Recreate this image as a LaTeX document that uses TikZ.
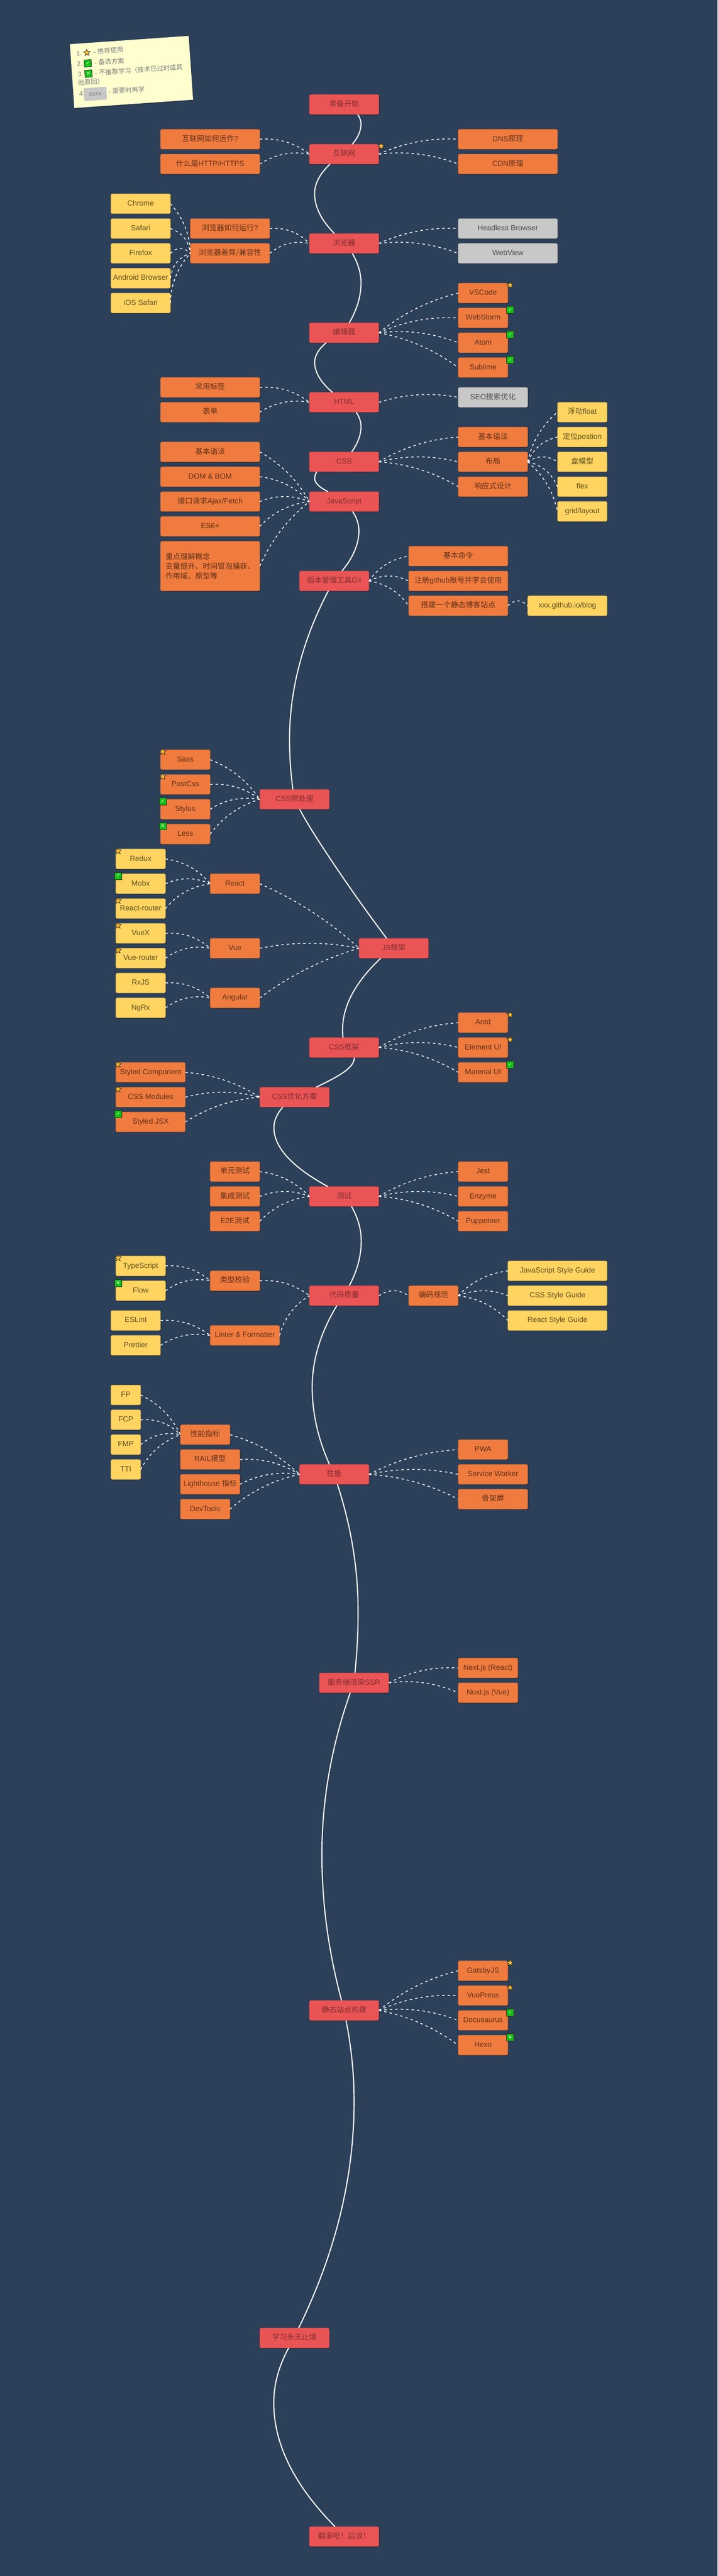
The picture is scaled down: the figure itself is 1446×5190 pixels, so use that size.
\documentclass[tikz,border=0pt]{standalone}
\usepackage{fontspec}
\setmainfont{Liberation Sans}
\newfontfamily\cjk{Noto Sans CJK SC}
\newfontfamily\dejavu{DejaVu Sans}
\usetikzlibrary{calc,shadows,shapes.geometric}
\newcommand\zh[1]{{\cjk #1}}
\definecolor{bgcol}{HTML}{2D4059}
\definecolor{redcol}{HTML}{EA5455}
\definecolor{orangecol}{HTML}{F07B3F}
\definecolor{yellowcol}{HTML}{FFD460}
\definecolor{greycol}{HTML}{C8C8C8}
\definecolor{notecol}{HTML}{FEFECF}
\definecolor{greencol}{HTML}{14C014}
\definecolor{goldcol}{HTML}{FBBD2E}
\tikzset{
  boxbase/.style={rectangle,rounded corners=3pt,inner sep=0pt,outer sep=0pt,line width=.7pt,
    font=\fontsize{15}{20}\selectfont,
    general shadow={fill=black,opacity=.28,shadow xshift=1pt,shadow yshift=-1.5pt}},
  redbox/.style={boxbase,fill=redcol,draw=redcol!82!black,text=black!45!redcol},
  orangebox/.style={boxbase,fill=orangecol,draw=orangecol!82!black,text=black!60!orangecol},
  yellowbox/.style={boxbase,fill=yellowcol,draw=yellowcol!82!black,text=black!62!yellowcol},
  greybox/.style={boxbase,fill=greycol,draw=greycol!82!black,text=black!62!greycol},
  spineline/.style={draw=white,line width=2.2pt},
  dashconn/.style={draw=white,line width=1.6pt,dash pattern=on 5pt off 6pt},
  starbadge/.style={star,star points=5,star point ratio=2.2,minimum size=14pt,inner sep=0pt,
    fill=goldcol,draw=black!85,line width=.8pt},
  squarebadge/.style={rectangle,minimum size=14.5pt,inner sep=0pt,fill=greencol,draw=black!85,
    line width=.8pt,text=white,font=\dejavu\fontsize{10}{10}\selectfont},
  notebox/.style={rectangle,fill=notecol,minimum width=240pt,minimum height=129pt,inner sep=0pt,
    general shadow={fill=black,opacity=.28,shadow xshift=1pt,shadow yshift=-1.5pt}},
  notetext/.style={inner sep=0pt,anchor=west,text=black!50,transform shape,
    font=\fontsize{13}{16}\selectfont},
}
\newcommand\nd[6]{\node[#2,minimum width=#5pt,minimum height=40pt,text height=11pt,text depth=3pt] (#1) at (#3+#5/2,#4+20) {#6};}
\newcommand\cn[2]{%
  \coordinate (Q) at ($(#1.east)!.5!(#2.west)!20pt!90:(#2.west)$);
  \draw[dashconn] (#1.east) .. controls ($(#1.east)!.667!(Q)$) and ($(#2.west)!.667!(Q)$) .. (#2.west);}
\newcommand\spine[6]{%
  \coordinate (S) at (#2,0 |- #1.south);
  \coordinate (E) at (#4,0 |- #3.north);
  \coordinate (P) at (#5,#6);
  \coordinate (M1) at ($(S)!.5!(S|-P)$);
  \coordinate (M2) at ($(E)!.5!(E|-P)$);
  \coordinate (C1) at (P|-M1);
  \coordinate (C2) at (P|-M2);
  \draw[spineline] (S) .. controls ($(S)!.667!(C1)$) and ($(P)!.667!(C1)$) .. (P)
     .. controls ($(P)!.667!(C2)$) and ($(E)!.667!(C2)$) .. (E);}
\newcommand\stR[1]{\node[starbadge] (#1-b) at ($(#1.north east)+(4.5,4)$) {};}
\newcommand\stL[1]{\node[starbadge] (#1-b) at ($(#1.north west)+(4.5,4)$) {};}
\newcommand\okR[1]{\node[squarebadge] (#1-b) at ($(#1.north east)+(4.5,4)$) {✓};}
\newcommand\okL[1]{\node[squarebadge] (#1-b) at ($(#1.north west)+(4.5,4)$) {✓};}
\newcommand\noR[1]{\node[squarebadge] (#1-b) at ($(#1.north east)+(4.5,4)$) {✕};}
\newcommand\noL[1]{\node[squarebadge] (#1-b) at ($(#1.north west)+(4.5,4)$) {✕};}
\begin{document}
\begin{tikzpicture}[x=1pt,y=-1pt]
\useasboundingbox (0,0) rectangle (1446,5190);
\fill[bgcol] (0,0) rectangle (1446,5190);

% main nodes
\nd{r1}{redbox}{623.5}{190.5}{140}{\zh{准备开始}}
\nd{r2}{redbox}{623.5}{290.5}{140}{\zh{互联网}}
\nd{r3}{redbox}{623.5}{470.5}{140}{\zh{浏览器}}
\nd{r4}{redbox}{623.5}{650.5}{140}{\zh{编辑器}}
\nd{r5}{redbox}{623.5}{790.5}{140}{HTML}
\nd{r6}{redbox}{623.5}{910.5}{140}{CSS}
\nd{r7}{redbox}{623.5}{990.5}{140}{JavaScript}
\nd{r8}{redbox}{603.5}{1150.5}{140}{\zh{版本管理工具}Git}
\nd{r9}{redbox}{523.5}{1590.5}{140}{CSS\zh{预处理}}
\nd{r10}{redbox}{723.5}{1890.5}{140}{JS\zh{框架}}
\nd{r11}{redbox}{623.5}{2090.5}{140}{CSS\zh{框架}}
\nd{r12}{redbox}{523.5}{2190.5}{140}{CSS\zh{优化方案}}
\nd{r13}{redbox}{623.5}{2390.5}{140}{\zh{测试}}
\nd{r14}{redbox}{623.5}{2590.5}{140}{\zh{代码质量}}
\nd{r15}{redbox}{603.5}{2950.5}{140}{\zh{性能}}
\nd{r16}{redbox}{643.5}{3370.5}{140}{\zh{服务端渲染}SSR}
\nd{r17}{redbox}{623.5}{4030.5}{140}{\zh{静态站点构建}}
\nd{r18}{redbox}{523.5}{4690.5}{140}{\zh{学习永无止境}}
\nd{r19}{redbox}{623.5}{5090.5}{140}{\zh{翻滚吧！后浪！}}

% internet
\nd{a1}{orangebox}{323.5}{260.5}{200}{\zh{互联网如何运作}?}
\nd{a2}{orangebox}{323.5}{310.5}{200}{\zh{什么是}HTTP/HTTPS}
\nd{a3}{orangebox}{923.5}{260.5}{200}{DNS\zh{原理}}
\nd{a4}{orangebox}{923.5}{310.5}{200}{CDN\zh{原理}}
% browser
\nd{b1}{yellowbox}{223.5}{390.5}{120}{Chrome}
\nd{b2}{yellowbox}{223.5}{440.5}{120}{Safari}
\nd{b3}{yellowbox}{223.5}{490.5}{120}{Firefox}
\nd{b4}{yellowbox}{223.5}{540.5}{120}{Android Browser}
\nd{b5}{yellowbox}{223.5}{590.5}{120}{iOS Safari}
\nd{b6}{orangebox}{383.5}{440.5}{160}{\zh{浏览器如何运行}?}
\nd{b7}{orangebox}{383.5}{490.5}{160}{\zh{浏览器差异/兼容性}}
\nd{b8}{greybox}{923.5}{440.5}{200}{Headless Browser}
\nd{b9}{greybox}{923.5}{490.5}{200}{WebView}
% editor
\nd{c1}{orangebox}{923.5}{570.5}{100}{VSCode}
\nd{c2}{orangebox}{923.5}{620.5}{100}{WebStorm}
\nd{c3}{orangebox}{923.5}{670.5}{100}{Atom}
\nd{c4}{orangebox}{923.5}{720.5}{100}{Sublime}
% html
\nd{d1}{orangebox}{323.5}{760.5}{200}{\zh{常用标签}}
\nd{d2}{orangebox}{323.5}{810.5}{200}{\zh{表单}}
\nd{d3}{greybox}{923.5}{780.5}{140}{SEO\zh{搜索优化}}
% css
\nd{e1}{orangebox}{923.5}{860.5}{140}{\zh{基本语法}}
\nd{e2}{orangebox}{923.5}{910.5}{140}{\zh{布局}}
\nd{e3}{orangebox}{923.5}{960.5}{140}{\zh{响应式设计}}
\nd{e4}{yellowbox}{1123.5}{810.5}{100}{\zh{浮动}float}
\nd{e5}{yellowbox}{1123.5}{860.5}{100}{\zh{定位}postion}
\nd{e6}{yellowbox}{1123.5}{910.5}{100}{\zh{盒模型}}
\nd{e7}{yellowbox}{1123.5}{960.5}{100}{flex}
\nd{e8}{yellowbox}{1123.5}{1010.5}{100}{grid/layout}
% js
\nd{f1}{orangebox}{323.5}{890.5}{200}{\zh{基本语法}}
\nd{f2}{orangebox}{323.5}{940.5}{200}{DOM \& BOM}
\nd{f3}{orangebox}{323.5}{990.5}{200}{\zh{接口请求}Ajax/Fetch}
\nd{f4}{orangebox}{323.5}{1040.5}{200}{ES6+}
\node[orangebox,minimum width=200pt,minimum height=100pt,align=left] (f5) at (423.5,1140.5)
  {\zh{重点理解概念}\\\zh{变量提升、时间冒泡捕获、}\\\zh{作用域、原型等}};
% git
\nd{g1}{orangebox}{823.5}{1100.5}{200}{\zh{基本命令}}
\nd{g2}{orangebox}{823.5}{1150.5}{200}{\zh{注册}github\zh{账号并学会使用}}
\nd{g3}{orangebox}{823.5}{1200.5}{200}{\zh{搭建一个静态博客站点}}
\nd{g4}{yellowbox}{1063.5}{1200.5}{160}{xxx.github.io/blog}
% preprocessors
\nd{h1}{orangebox}{323.5}{1510.5}{100}{Sass}
\nd{h2}{orangebox}{323.5}{1560.5}{100}{PostCss}
\nd{h3}{orangebox}{323.5}{1610.5}{100}{Stylus}
\nd{h4}{orangebox}{323.5}{1660.5}{100}{Less}
% frameworks
\nd{i1}{yellowbox}{233.5}{1710.5}{100}{Redux}
\nd{i2}{yellowbox}{233.5}{1760.5}{100}{Mobx}
\nd{i3}{yellowbox}{233.5}{1810.5}{100}{React-router}
\nd{i4}{yellowbox}{233.5}{1860.5}{100}{VueX}
\nd{i5}{yellowbox}{233.5}{1910.5}{100}{Vue-router}
\nd{i6}{yellowbox}{233.5}{1960.5}{100}{RxJS}
\nd{i7}{yellowbox}{233.5}{2010.5}{100}{NgRx}
\nd{i8}{orangebox}{423.5}{1760.5}{100}{React}
\nd{i9}{orangebox}{423.5}{1890.5}{100}{Vue}
\nd{i10}{orangebox}{423.5}{1990.5}{100}{Angular}
% css frameworks
\nd{j1}{orangebox}{923.5}{2040.5}{100}{Antd}
\nd{j2}{orangebox}{923.5}{2090.5}{100}{Element UI}
\nd{j3}{orangebox}{923.5}{2140.5}{100}{Material UI}
\nd{j4}{orangebox}{233.5}{2140.5}{140}{Styled Component}
\nd{j5}{orangebox}{233.5}{2190.5}{140}{CSS Modules}
\nd{j6}{orangebox}{233.5}{2240.5}{140}{Styled JSX}
% tests
\nd{k1}{orangebox}{423.5}{2340.5}{100}{\zh{单元测试}}
\nd{k2}{orangebox}{423.5}{2390.5}{100}{\zh{集成测试}}
\nd{k3}{orangebox}{423.5}{2440.5}{100}{E2E\zh{测试}}
\nd{k4}{orangebox}{923.5}{2340.5}{100}{Jest}
\nd{k5}{orangebox}{923.5}{2390.5}{100}{Enzyme}
\nd{k6}{orangebox}{923.5}{2440.5}{100}{Puppeteer}
% quality
\nd{l1}{yellowbox}{233.5}{2530.5}{100}{TypeScript}
\nd{l2}{yellowbox}{233.5}{2580.5}{100}{Flow}
\nd{l3}{orangebox}{423.5}{2560.5}{100}{\zh{类型校验}}
\nd{l4}{yellowbox}{223.5}{2640.5}{100}{ESLint}
\nd{l5}{yellowbox}{223.5}{2690.5}{100}{Prettier}
\nd{l6}{orangebox}{423.5}{2670.5}{140}{Linter \& Formatter}
\nd{l7}{orangebox}{823.5}{2590.5}{100}{\zh{编码规范}}
\nd{l8}{yellowbox}{1023.5}{2540.5}{200}{JavaScript Style Guide}
\nd{l9}{yellowbox}{1023.5}{2590.5}{200}{CSS Style Guide}
\nd{l10}{yellowbox}{1023.5}{2640.5}{200}{React Style Guide}
% performance
\nd{m1}{yellowbox}{223.5}{2790.5}{60}{FP}
\nd{m2}{yellowbox}{223.5}{2840.5}{60}{FCP}
\nd{m3}{yellowbox}{223.5}{2890.5}{60}{FMP}
\nd{m4}{yellowbox}{223.5}{2940.5}{60}{TTI}
\nd{m5}{orangebox}{363.5}{2870.5}{100}{\zh{性能指标}}
\nd{m6}{orangebox}{363.5}{2920.5}{120}{RAIL\zh{模型}}
\nd{m7}{orangebox}{363.5}{2970.5}{120}{Lighthouse \zh{指标}}
\nd{m8}{orangebox}{363.5}{3020.5}{100}{DevTools}
\nd{m9}{orangebox}{923.5}{2900.5}{100}{PWA}
\nd{m10}{orangebox}{923.5}{2950.5}{140}{Service Worker}
\nd{m11}{orangebox}{923.5}{3000.5}{140}{\zh{骨架屏}}
% ssr, static
\nd{n1}{orangebox}{923.5}{3340.5}{120}{Next.js (React)}
\nd{n2}{orangebox}{923.5}{3390.5}{120}{Nuxt.js (Vue)}
\nd{o1}{orangebox}{923.5}{3950.5}{100}{GatsbyJS}
\nd{o2}{orangebox}{923.5}{4000.5}{100}{VuePress}
\nd{o3}{orangebox}{923.5}{4050.5}{100}{Docusaurus}
\nd{o4}{orangebox}{923.5}{4100.5}{100}{Hexo}

% spine
\spine{r1}{721}{r2}{710}{727.5}{250}
\spine{r2}{665}{r3}{674}{634}{390}
\spine{r3}{710}{r4}{703.7}{727.5}{570}
\spine{r4}{657.4}{r5}{670}{634.2}{729.7}
\spine{r5}{717.7}{r6}{708.6}{727.5}{859}
\spine{r6}{638.4}{r7}{661}{634.2}{964}
\spine{r7}{710.7}{r8}{689}{723.3}{1069}
\spine{r8}{661.6}{r9}{590.3}{583.5}{1490}
\draw[spineline] (604,0 |- r9.south) .. controls (625,1672) and (700,1785) .. (779,0 |- r10.north);
\spine{r10}{767.3}{r11}{691}{690.4}{2075}
\draw[spineline] (714,0 |- r11.south) .. controls (714,2150) and (690,2165) .. (636.9,0 |- r12.north);
\spine{r12}{570}{r13}{660.5}{552}{2271.8}
\spine{r13}{708.3}{r14}{703.8}{728}{2500}
\spine{r14}{678.8}{r15}{664}{629.2}{2794.7}
\spine{r15}{680}{r16}{715.3}{721.7}{3246.7}
\spine{r16}{705.8}{r17}{688.4}{648.7}{3736}
\spine{r17}{697.3}{r18}{601.8}{713.6}{4234}
\spine{r18}{581.7}{r19}{675.3}{551.7}{4840.8}

% dashed connectors, always left to right
\cn{a1}{r2}\cn{a2}{r2}\cn{r2}{a3}\cn{r2}{a4}
\cn{b1}{b7}\cn{b2}{b7}\cn{b3}{b7}\cn{b4}{b7}\cn{b5}{b7}
\cn{b6}{r3}\cn{b7}{r3}\cn{r3}{b8}\cn{r3}{b9}
\cn{r4}{c1}\cn{r4}{c2}\cn{r4}{c3}\cn{r4}{c4}
\cn{d1}{r5}\cn{d2}{r5}\cn{r5}{d3}
\cn{r6}{e1}\cn{r6}{e2}\cn{r6}{e3}
\cn{e2}{e4}\cn{e2}{e5}\cn{e2}{e6}\cn{e2}{e7}\cn{e2}{e8}
\cn{f1}{r7}\cn{f2}{r7}\cn{f3}{r7}\cn{f4}{r7}\cn{f5}{r7}
\cn{r8}{g1}\cn{r8}{g2}\cn{r8}{g3}\cn{g3}{g4}
\cn{h1}{r9}\cn{h2}{r9}\cn{h3}{r9}\cn{h4}{r9}
\cn{i1}{i8}\cn{i2}{i8}\cn{i3}{i8}\cn{i4}{i9}\cn{i5}{i9}\cn{i6}{i10}\cn{i7}{i10}
\cn{i8}{r10}\cn{i9}{r10}\cn{i10}{r10}
\cn{r11}{j1}\cn{r11}{j2}\cn{r11}{j3}
\cn{j4}{r12}\cn{j5}{r12}\cn{j6}{r12}
\cn{k1}{r13}\cn{k2}{r13}\cn{k3}{r13}\cn{r13}{k4}\cn{r13}{k5}\cn{r13}{k6}
\cn{l1}{l3}\cn{l2}{l3}\cn{l3}{r14}\cn{l4}{l6}\cn{l5}{l6}\cn{l6}{r14}
\cn{r14}{l7}\cn{l7}{l8}\cn{l7}{l9}\cn{l7}{l10}
\cn{m1}{m5}\cn{m2}{m5}\cn{m3}{m5}\cn{m4}{m5}
\cn{m5}{r15}\cn{m6}{r15}\cn{m7}{r15}\cn{m8}{r15}
\cn{r15}{m9}\cn{r15}{m10}\cn{r15}{m11}
\cn{r16}{n1}\cn{r16}{n2}
\cn{r17}{o1}\cn{r17}{o2}\cn{r17}{o3}\cn{r17}{o4}

% badges
\stR{r2}\stR{c1}\okR{c2}\okR{c3}\okR{c4}
\stL{h1}\stL{h2}\okL{h3}\noL{h4}
\stL{i1}\okL{i2}\stL{i3}\stL{i4}\stL{i5}
\stR{j1}\stR{j2}\okR{j3}\stL{j4}\stL{j5}\okL{j6}
\stL{l1}\noL{l2}
\stR{o1}\stR{o2}\okR{o3}\noR{o4}

% legend note
\begin{scope}[shift={(265,145)},rotate=4]
  \node[notebox,transform shape] (note) at (0,0) {};
  \node[notetext] (n11) at (-108.5,-45) {1.};
  \node[starbadge,transform shape] (n12) at (-87,-45) {};
  \node[notetext] (n13) at (-73.6,-46) {- \zh{推荐使用}};
  \node[notetext] (n21) at (-108.5,-24) {2.};
  \node[squarebadge,transform shape] (n22) at (-86.6,-23.5) {✓};
  \node[notetext] (n23) at (-73.4,-24) {- \zh{备选方案}};
  \node[notetext] (n31) at (-108.5,-2.5) {3.};
  \node[squarebadge,transform shape] (n32) at (-86.7,-2.7) {✕};
  \node[notetext] (n33) at (-73.8,-3) {- \zh{不推荐学习（技术已过时或其}};
  \node[notetext] (n34) at (-109.5,14.5) {\zh{他原因）}};
  \node[notetext] (n41) at (-108.5,37) {4.};
  \node[rectangle,rounded corners=2pt,fill=greycol,minimum width=46pt,minimum height=26pt,inner sep=0pt,
    text=black!50,transform shape,font=\fontsize{13}{16}\selectfont] (n42) at (-75.9,39) {xxxx};
  \node[notetext] (n43) at (-49.2,36) {- \zh{需要时再学}};
\end{scope}
\end{tikzpicture}
\end{document}
